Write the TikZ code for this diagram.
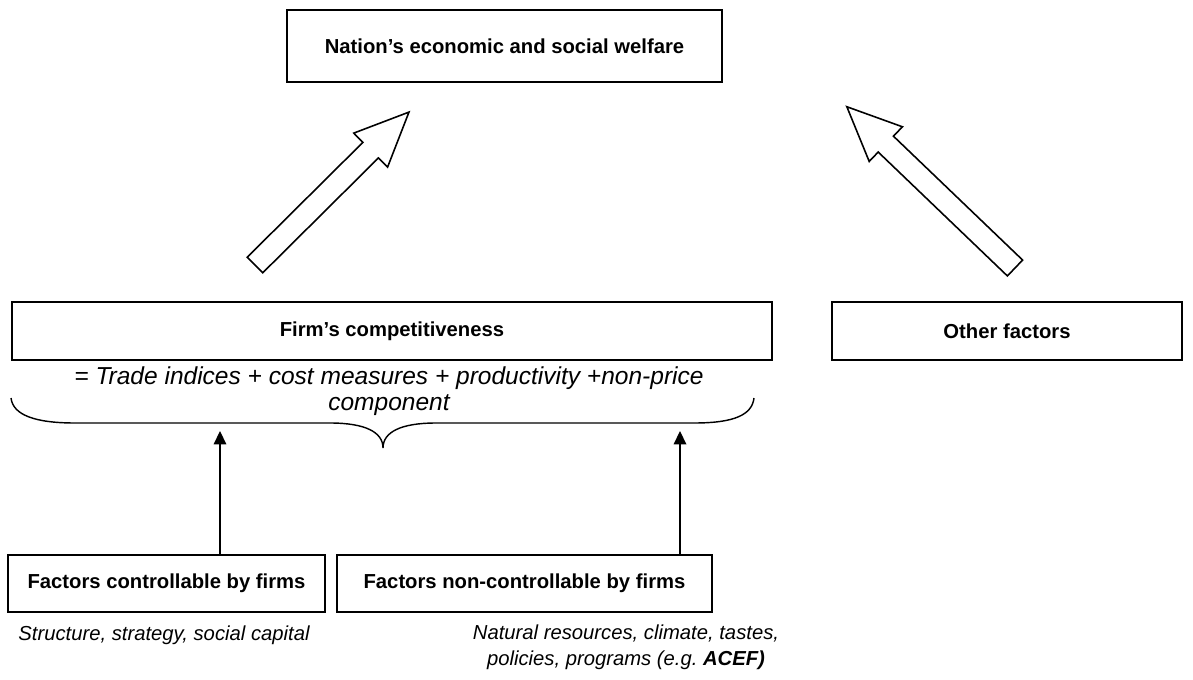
\documentclass[tikz,border=0pt]{standalone}
\usepackage{fontspec}
\setmainfont{Liberation Sans}
\usetikzlibrary{arrows.meta,positioning}
\newlength\pxu
\setlength\pxu{0.02222cm}
\newcommand\figfont{\fontsize{12.8}{16.5}\selectfont}
\newcommand\eqfont{\fontsize{15.5}{16.5}\selectfont}
\tikzset{
  basebox/.style={draw=black,line width=0.8pt,fill=white,align=center,font=\figfont\bfseries,inner sep=4pt},
  note/.style={font=\figfont\itshape,align=center,inner sep=1pt},
  arrow/.style={-{Triangle[length=8.5pt,width=8pt]},line width=0.8pt,draw=black},
  fatarrow/.style={draw=black,fill=white,line width=1pt,line join=miter},
  brace/.style={line width=0.9pt,draw=black}
}
\begin{document}
\begin{tikzpicture}[
    x=0.02222cm,y=0.02222cm,
    top/.style={basebox,minimum width=435\pxu,minimum height=72\pxu},
    mid/.style={basebox,minimum height=58\pxu},
    low/.style={basebox,minimum height=57\pxu}
  ]
    \useasboundingbox (0,0) rectangle (1193,-680);

    \node[top] (welfare) at (504.5,-46) {Nation’s economic and social welfare};

    \node[mid,minimum width=760\pxu] (firm) at (392,-331) {Firm’s competitiveness};
    \node[mid,minimum width=350\pxu] (other) at (1007,-331) {Other factors};

    % big hollow arrows towards the welfare box
    \foreach \tx/\ty/\ang/\len in {255/-265/44.8/217,1015/-268/136.2/233} {
      \draw[fatarrow,shift={(\tx,\ty)},rotate=\ang]
        (0,-11) -- (\len-54,-11) -- (\len-54,-24) -- (\len,0)
        -- (\len-54,24) -- (\len-54,11) -- (0,11) -- cycle;
    }

    \node[note,font=\eqfont\itshape] (eq) at (389,-391) {= Trade indices + cost measures + productivity +non-price\\component};

    \coordinate (braceL) at (11,-398);
    \coordinate (braceR) at (754,-398);
    \coordinate (braceTip) at (383,-448);
    \draw[brace] (braceL) .. controls (13,-415) and (35,-423) .. (75,-423) -- (330,-423)
      .. controls (365,-423) and (383,-432) .. (braceTip)
      .. controls (383,-432) and (401,-423) .. (436,-423) -- (694,-423)
      .. controls (734,-423) and (752,-415) .. (braceR);

    \node[low,minimum width=317\pxu] (ctrl) at (166.5,-583.5) {Factors controllable by firms};
    \node[low,minimum width=375\pxu] (nonctrl) at (524.5,-583.5) {Factors non-controllable by firms};

    \coordinate (inL) at (220,-431);
    \coordinate (inR) at (680,-431);
    \draw[arrow] (inL |- ctrl.north) -- (inL);
    \draw[arrow] (inR |- nonctrl.north) -- (inR);

    \node[note] (ctrlnote) at (164,-635) {Structure, strategy, social capital};
    \node[note] (nonnote) at (626,-647) {Natural resources, climate, tastes,\\policies, programs (e.g.\ \textbf{ACEF)}};
  \end{tikzpicture}
\end{document}
